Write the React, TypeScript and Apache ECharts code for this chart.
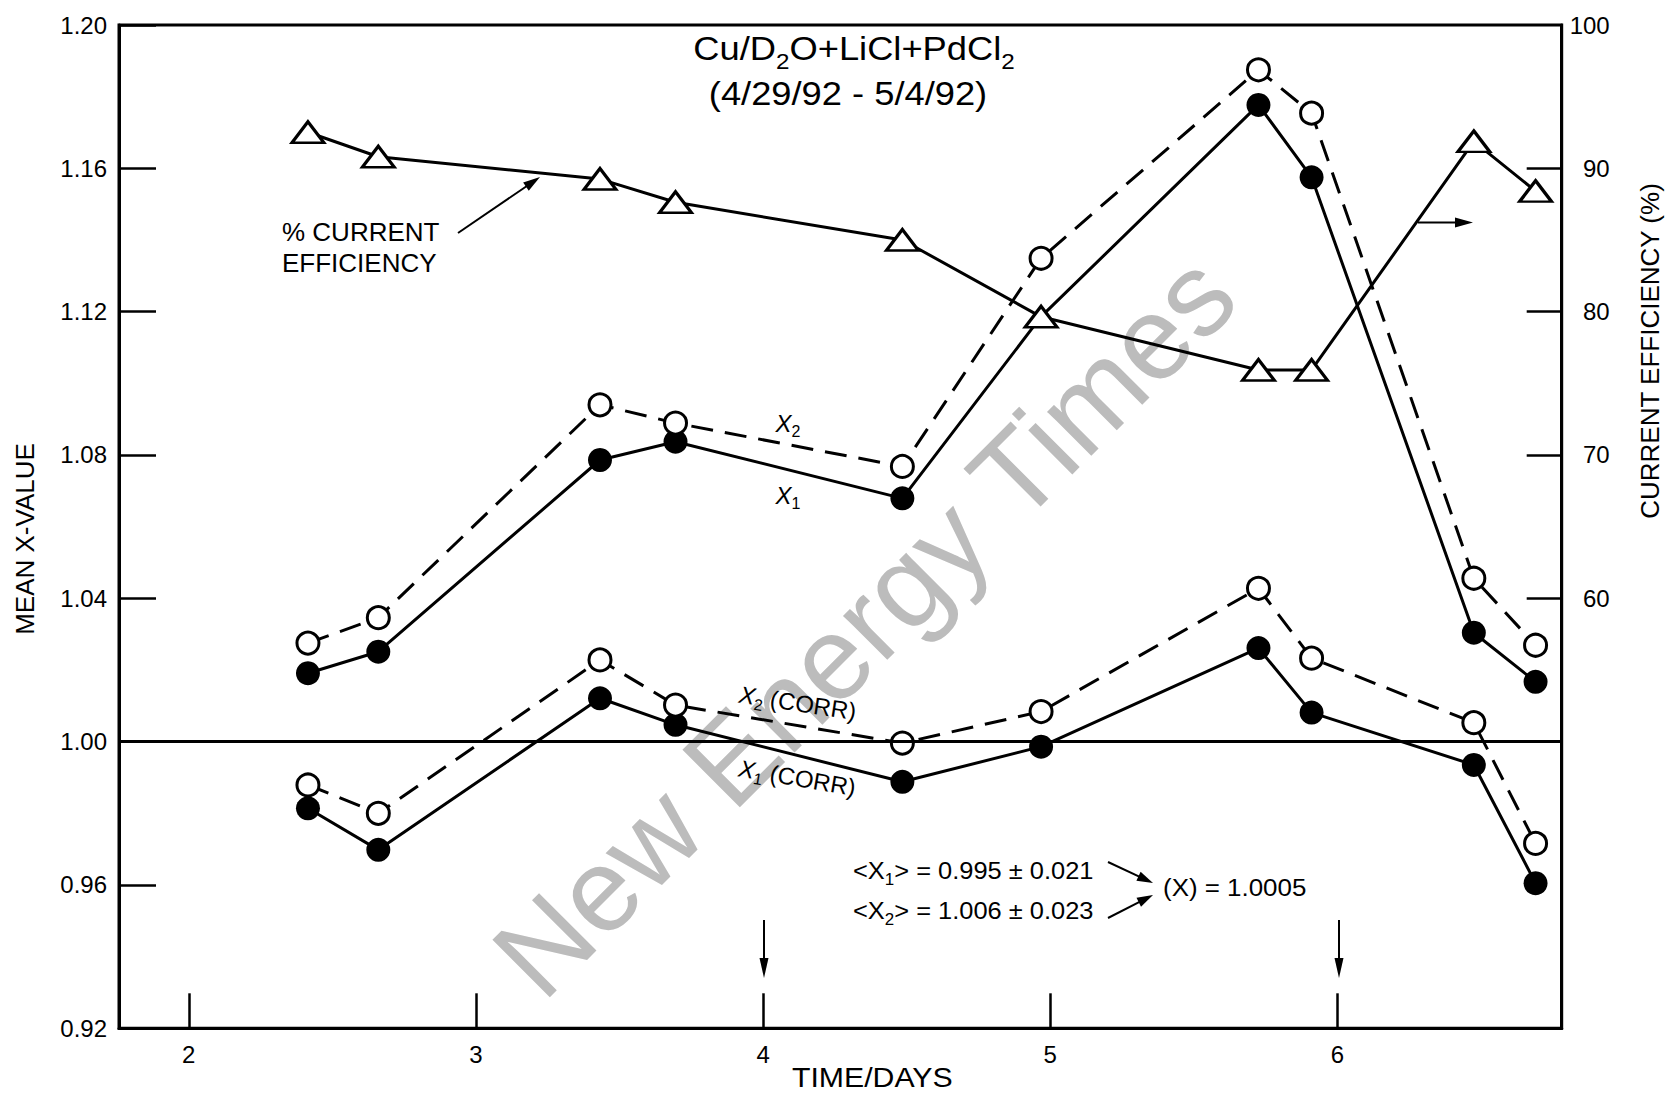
import React, { useEffect, useRef } from 'react';
import * as echarts from 'echarts';

// ---------- data ----------
const times = [2.415, 2.66, 3.432, 3.695, 4.485, 4.968, 5.725, 5.91, 6.475, 6.69];
const x1Values = [1.0191, 1.0251, 1.0786, 1.0837, 1.0679, 1.1186, 1.1777, 1.1575, 1.0304, 1.0167];
const x2Values = [1.0275, 1.0346, 1.094, 1.0889, 1.0768, 1.1349, 1.1875, 1.1754, 1.0456, 1.0269];
const x1CorrValues = [0.9814, 0.9698, 1.0121, 1.0047, 0.9888, 0.9986, 1.0261, 1.0081, 0.9935, 0.9605];
const x2CorrValues = [0.9879, 0.98, 1.0228, 1.0102, 0.9996, 1.0084, 1.0428, 1.0233, 1.0053, 0.9716];
const efficiencyValues = [92.52, 90.81, 89.25, 87.63, 85.0, 79.64, 75.93, 75.93, 91.88, 88.41];
const hiddenX1Index = 5; // X1 point hidden behind the triangle
const xTickValues = [2, 3, 4, 5, 6];
const effTickValues = [60, 70, 80, 90];
const effLabelValues = [60, 70, 80, 90, 100];

const FONT = '"Liberation Sans", Arial, Helvetica, sans-serif';

function arrow(x1: number, y1: number, x2: number, y2: number, head = 16, half = 5, lw = 2) {
  const dx = x2 - x1, dy = y2 - y1;
  const len = Math.hypot(dx, dy);
  const ux = dx / len, uy = dy / len;
  const bx = x2 - ux * head, by = y2 - uy * head;
  return [
    { type: 'line', silent: true, shape: { x1, y1, x2: bx + ux * 2, y2: by + uy * 2 }, style: { stroke: '#000', lineWidth: lw } },
    {
      type: 'polygon', silent: true,
      shape: { points: [[x2, y2], [bx - uy * half, by + ux * half], [bx + uy * half, by - ux * half]] },
      style: { fill: '#000' },
    },
  ];
}

// rich text with subscripts; main-token centre placed at cy
function richText(text: string, x: number, cy: number, f: number, drop: number, opts: any = {}) {
  const fs = Math.round(f * 0.66);
  const L = Math.round(2 * (drop + 0.35 * (f - fs) + fs / 2));
  return {
    type: 'text', silent: true,
    x, y: cy - L / 2,
    scaleX: opts.scaleX ?? 1,
    rotation: opts.rotation ?? 0,
    z: 10,
    style: {
      text,
      align: opts.align ?? 'left',
      verticalAlign: 'top',
      fill: '#000',
      rich: {
        n: { fontSize: f, lineHeight: L, verticalAlign: 'middle', fontFamily: FONT, fill: '#000' },
        i: { fontSize: f, lineHeight: L, verticalAlign: 'middle', fontFamily: FONT, fontStyle: 'italic', fill: '#000' },
        s: { fontSize: fs, verticalAlign: 'bottom', fontFamily: FONT, fill: '#000' },
      },
    },
  };
}

function plainText(text: string, x: number, y: number, f: number, opts: any = {}) {
  return {
    type: 'text', silent: true, x, y,
    scaleX: opts.scaleX ?? 1,
    rotation: opts.rotation ?? 0,
    z: opts.z ?? 10,
    style: {
      text, fontSize: f, fontFamily: FONT, fill: opts.fill ?? '#000',
      align: opts.align ?? 'left', verticalAlign: 'middle',
    },
  };
}

function buildOption() {
  const pts = (vals: number[]) => times.map((t, i) => [t, vals[i]]);
  const x1Data = times.map((t, i) =>
    i === hiddenX1Index ? { value: [t, x1Values[i]], symbol: 'none' } : [t, x1Values[i]]
  );
  const openCircle = { color: '#fff', borderColor: '#000', borderWidth: 3 };
  const dash = { color: '#000', width: 3, type: [22, 12] as any };
  const solid = { color: '#000', width: 3, type: 'solid' as any };

  const graphic: any[] = [
    // watermark
    {
      type: 'text', silent: true, x: 864, y: 625, rotation: Math.PI / 4, z: -10,
      style: { text: 'New Energy Times', fontSize: 118, fontFamily: FONT, fill: '#bcbcbc', align: 'center', verticalAlign: 'middle' },
    },
    // title
    richText('{n|Cu/D}{s|2}{n|O+LiCl+PdCl}{s|2}', 854, 49, 33, 8, { align: 'center', scaleX: 1.1 }),
    plainText('(4/29/92 - 5/4/92)', 848, 94, 33, { align: 'center', scaleX: 1.1 }),
    // efficiency label + arrows
    plainText('% CURRENT', 282, 232, 26),
    plainText('EFFICIENCY', 282, 263, 26),
    ...arrow(458, 233, 540, 177, 17, 5),
    ...arrow(1418, 222.5, 1473, 222.5, 18, 5),
    // series labels
    richText('{i|X}{s|2}', 788, 423, 24, 5, { align: 'center' }),
    richText('{i|X}{s|1}', 788, 495, 24, 5, { align: 'center' }),
    richText('{i|X}{s|2}{n| (CORR)}', 800, 703, 24, 5, { align: 'center', rotation: -0.15 }),
    richText('{i|X}{s|1}{n| (CORR)}', 800, 778, 24, 5, { align: 'center', rotation: -0.17 }),
    // averages
    richText('{n|<X}{s|1}{n|> = 0.995 ± 0.021}', 853, 871, 24, 5, { scaleX: 1.06 }),
    richText('{n|<X}{s|2}{n|> = 1.006 ± 0.023}', 853, 911, 24, 5, { scaleX: 1.06 }),
    plainText('(X) = 1.0005', 1163, 887, 24, { scaleX: 1.08 }),
    ...arrow(1108, 862, 1153, 883, 16, 5),
    ...arrow(1108, 918, 1153, 895, 16, 5),
    // down arrows
    ...arrow(764, 920, 764, 978, 20, 4.5),
    ...arrow(1339, 920, 1339, 978, 20, 4.5),
    // axis names
    plainText('TIME/DAYS', 792, 1077, 28, { scaleX: 1.08 }),
    plainText('MEAN X-VALUE', 25, 539, 26, { align: 'center', rotation: Math.PI / 2 }),
    plainText('CURRENT EFFICIENCY (%)', 1650, 351, 26, { align: 'center', rotation: Math.PI / 2 }),
  ];

  return {
    animation: false,
    backgroundColor: '#fff',
    grid: {
      left: 119, top: 25, width: 1442.7, height: 1003.3,
      containLabel: false, outerBoundsMode: 'none',
      show: true, borderColor: '#000', borderWidth: 3, backgroundColor: 'transparent',
    },
    xAxis: {
      type: 'value', min: 1.757, max: 6.781,
      axisLine: { show: true, onZero: false, lineStyle: { color: '#000', width: 3 } },
      axisTick: { show: true, inside: true, length: 35, customValues: xTickValues, lineStyle: { color: '#000', width: 2.5 } },
      axisLabel: { show: true, customValues: xTickValues, margin: 14, fontSize: 24, fontFamily: FONT, color: '#000', formatter: (v: number) => String(Math.round(v)) },
      splitLine: { show: false },
    },
    yAxis: [
      {
        type: 'value', min: 0.92, max: 1.2, interval: 0.04,
        axisLine: { show: true, lineStyle: { color: '#000', width: 3 } },
        axisTick: { show: true, inside: true, length: 37, lineStyle: { color: '#000', width: 2.5 } },
        axisLabel: { margin: 12, fontSize: 24, fontFamily: FONT, color: '#000', formatter: (v: number) => v.toFixed(2) },
        splitLine: { show: false },
      },
      {
        type: 'value', position: 'right', min: 30, max: 100, interval: 10,
        axisLine: { show: true, lineStyle: { color: '#000', width: 3 } },
        axisTick: { show: true, inside: true, length: 35, customValues: effTickValues, lineStyle: { color: '#000', width: 2.5 } },
        axisLabel: { customValues: effLabelValues, margin: 48, align: 'right', fontSize: 24, fontFamily: FONT, color: '#000' },
        splitLine: { show: false },
      },
    ],
    graphic,
    series: [
      {
        name: 'X1', type: 'line', data: x1Data, symbol: 'circle', symbolSize: 24,
        itemStyle: { color: '#000' }, lineStyle: solid, z: 3,
        markLine: {
          silent: true, symbol: 'none', label: { show: false },
          lineStyle: { color: '#000', width: 3, type: 'solid' },
          data: [{ yAxis: 1 }],
        },
      },
      {
        name: 'X2', type: 'line', data: pts(x2Values), symbol: 'circle', symbolSize: 22,
        itemStyle: openCircle, lineStyle: dash, z: 3,
      },
      {
        name: 'X1 (CORR)', type: 'line', data: pts(x1CorrValues), symbol: 'circle', symbolSize: 24,
        itemStyle: { color: '#000' }, lineStyle: solid, z: 3,
      },
      {
        name: 'X2 (CORR)', type: 'line', data: pts(x2CorrValues), symbol: 'circle', symbolSize: 22,
        itemStyle: openCircle, lineStyle: dash, z: 3,
      },
      {
        name: '% Current Efficiency', type: 'line', yAxisIndex: 1, data: pts(efficiencyValues),
        symbol: 'triangle', symbolSize: [32, 21],
        itemStyle: { color: '#fff', borderColor: '#000', borderWidth: 3 }, lineStyle: solid, z: 4,
      },
    ],
  };
}

export default function App() {
  const ref = useRef<HTMLDivElement>(null);
  useEffect(() => {
    if (!ref.current) return;
    const chart = echarts.init(ref.current, null, { renderer: 'svg' });
    chart.setOption(buildOption() as any);
    return () => chart.dispose();
  }, []);
  return (
    <div
      ref={ref}
      style={{ position: 'fixed', left: 0, top: 0, width: 1673, height: 1094, background: '#fff' }}
    />
  );
}
